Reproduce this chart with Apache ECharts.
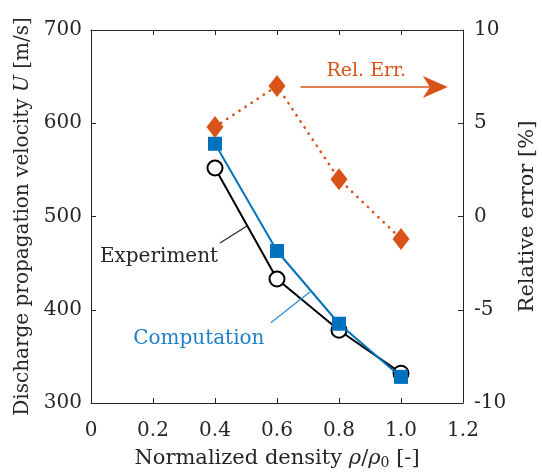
<!DOCTYPE html>
<html><head><meta charset="utf-8">
<script src="https://cdn.jsdelivr.net/npm/echarts@6/dist/echarts.min.js"></script>
<style>html,body{margin:0;padding:0;background:#fff}#c{width:542px;height:472px}</style>
</head><body><div id="c"></div>
<script>
// ---- data ----
const density = [0.4, 0.6, 0.8, 1.0];
const experiment = [552, 433, 378, 332];
const computation = [578, 463, 385, 328];
const relError = [4.8, 7.0, 2.0, -1.2];
const xTickLabels = ['0', '0.2', '0.4', '0.6', '0.8', '1.0', '1.2'];
const leftTicks = [300, 400, 500, 600, 700];
const rightTicks = [-10, -5, 0, 5, 10];

const FONT = 'DejaVu Serif';
const FS = 20, FT = 21;
const BLUE = '#0072BD', ORANGE = '#D95319', INK = '#262626';
const chart = echarts.init(document.getElementById('c'));
const zip = (xs, ys) => xs.map((x, i) => [x, ys[i]]);

const axisCommon = {
  axisLine: { show: true, onZero: false, lineStyle: { color: INK, width: 1 } },
  axisTick: { show: true, inside: true, length: 5, lineStyle: { color: INK } },
  splitLine: { show: false },
  nameTextStyle: { fontFamily: FONT, fontSize: FT, color: INK }
};

chart.setOption({
  animation: false,
  backgroundColor: '#fff',
  grid: { left: 91, right: 79, top: 30, bottom: 69, containLabel: false, outerBoundsMode: 'none' },
  xAxis: [
    Object.assign({}, axisCommon, {
      type: 'value', min: 0, max: 1.2, interval: 0.2, position: 'bottom',
      axisLabel: { fontFamily: FONT, fontSize: FS, color: INK, margin: 18,
        formatter: v => xTickLabels[Math.round(v / 0.2)] },
      name: 'Normalized density {i|ρ}/{i|ρ}{s|0} [-]', nameLocation: 'middle', nameGap: 45,
      nameTextStyle: { fontFamily: FONT, fontSize: FT, color: INK,
        rich: { i: { fontFamily: FONT, fontSize: FT, fontStyle: 'italic', color: INK },
                s: { fontFamily: FONT, fontSize: 14, color: INK, verticalAlign: 'bottom', padding: [8, 0, 0, 0] } } }
    }),
    Object.assign({}, axisCommon, {
      type: 'value', min: 0, max: 1.2, interval: 0.2, position: 'top',
      axisLabel: { show: false }
    })
  ],
  yAxis: [
    Object.assign({}, axisCommon, {
      type: 'value', min: leftTicks[0], max: leftTicks[leftTicks.length - 1], interval: 100, position: 'left',
      axisLabel: { fontFamily: FONT, fontSize: FS, color: INK, margin: 9 },
      name: 'Discharge propagation velocity {i|U} [m/s]', nameLocation: 'middle', nameGap: 57, nameRotate: 90,
      nameTextStyle: { fontFamily: FONT, fontSize: 20, color: INK,
        rich: { i: { fontFamily: FONT, fontSize: 20, fontStyle: 'italic', color: INK } } }
    }),
    Object.assign({}, axisCommon, {
      type: 'value', min: rightTicks[0], max: rightTicks[rightTicks.length - 1], interval: 5, position: 'right',
      axisLabel: { fontFamily: FONT, fontSize: FS, color: INK, margin: 11 },
      name: 'Relative error [%]', nameLocation: 'middle', nameGap: 54, nameRotate: 90
    })
  ],
  series: [
    { name: 'Experiment', type: 'line', xAxisIndex: 0, yAxisIndex: 0, data: zip(density, experiment),
      symbol: 'emptyCircle', symbolSize: 15, z: 3,
      itemStyle: { color: '#000', borderWidth: 2 }, lineStyle: { color: '#000', width: 2 } },
    { name: 'Computation', type: 'line', xAxisIndex: 0, yAxisIndex: 0, data: zip(density, computation),
      symbol: 'rect', symbolSize: 14, z: 4,
      itemStyle: { color: BLUE }, lineStyle: { color: BLUE, width: 2 } },
    { name: 'Rel. Err.', type: 'line', xAxisIndex: 0, yAxisIndex: 1, data: zip(density, relError),
      symbol: 'diamond', symbolSize: [17, 22], z: 5,
      itemStyle: { color: ORANGE }, lineStyle: { color: ORANGE, width: 2.6, type: [0.3, 7], cap: 'round' } }
  ]
});

// ---- annotations (anchored in data coordinates) ----
const L = p => chart.convertToPixel({ xAxisIndex: 0, yAxisIndex: 0 }, p);
const R = p => chart.convertToPixel({ xAxisIndex: 0, yAxisIndex: 1 }, p);
const e1 = L([0.416, 471.6]), e2 = L([0.503, 489.8]);
const c1 = L([0.580, 386]), c2 = L([0.706, 419]);
const eT = L([0.41, 457]), cT = L([0.136, 369]);
const a1 = R([0.676, 6.94]), a2 = R([1.151, 6.94]), aT = R([0.888, 7.8]);
chart.setOption({
  graphic: [
    { type: 'line', shape: { x1: e1[0], y1: e1[1], x2: e2[0], y2: e2[1] }, style: { stroke: INK, lineWidth: 1.2 }, z: 10 },
    { type: 'text', x: eT[0], y: eT[1], style: { text: 'Experiment', fontFamily: FONT, fontSize: FS, fill: INK, align: 'right', verticalAlign: 'middle' }, z: 10 },
    { type: 'line', shape: { x1: c1[0], y1: c1[1], x2: c2[0], y2: c2[1] }, style: { stroke: '#2a8ad0', lineWidth: 1.2 }, z: 10 },
    { type: 'text', x: cT[0], y: cT[1], style: { text: 'Computation', fontFamily: FONT, fontSize: FS, fill: '#1f80c8', align: 'left', verticalAlign: 'middle' }, z: 10 },
    { type: 'line', shape: { x1: a1[0], y1: a1[1], x2: a2[0] - 16, y2: a2[1] }, style: { stroke: ORANGE, lineWidth: 1.6 }, z: 10 },
    { type: 'polygon', shape: { points: [[a2[0], a2[1]], [a2[0] - 25, a2[1] - 11], [a2[0] - 18, a2[1]], [a2[0] - 25, a2[1] + 11]] },
      style: { fill: ORANGE }, z: 10 },
    { type: 'text', x: aT[0], y: aT[1], style: { text: 'Rel. Err.', fontFamily: FONT, fontSize: 19, fill: ORANGE, align: 'center', verticalAlign: 'middle' }, z: 10 }
  ]
});
</script></body></html>
